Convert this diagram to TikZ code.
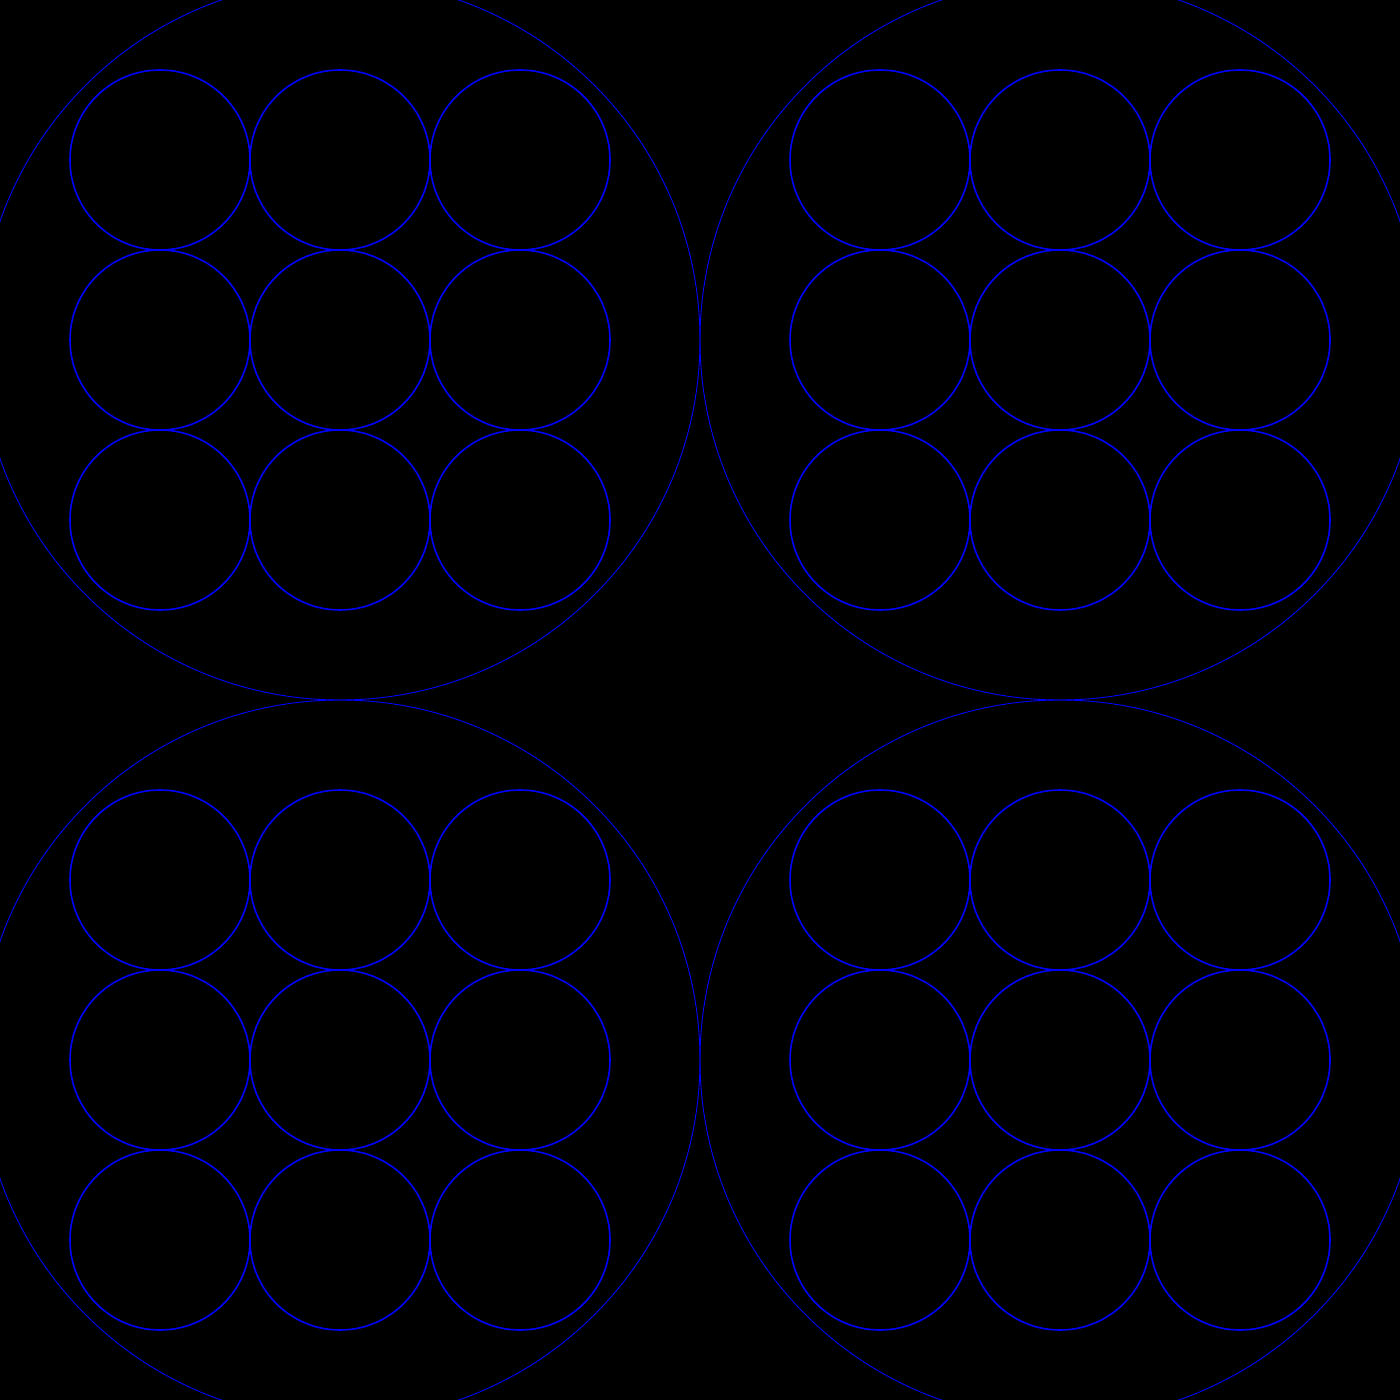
\documentclass[tikz,border=0pt]{standalone}
\begin{document}
\begin{tikzpicture}[x=0.1mm,y=-0.1mm,
  bigring/.style={draw=blue,line width=0.25pt},
  smallring/.style={draw=blue,line width=0.45pt}]
\fill[black] (0,0) rectangle (1400,1400);
\useasboundingbox (0,0) rectangle (1400,1400);
\begin{scope}
\clip (0,0) rectangle (1400,1400);
\foreach \cx/\cy in {340/340,1060/340,340/1060,1060/1060}{
  \draw[bigring] (\cx,\cy) circle[radius=360];
  \foreach \i in {-1,0,1}{
    \foreach \j in {-1,0,1}{
      \draw[smallring] (\cx+\i*180,\cy+\j*180) circle[radius=90];
    }
  }
}
\end{scope}
\end{tikzpicture}
\end{document}
